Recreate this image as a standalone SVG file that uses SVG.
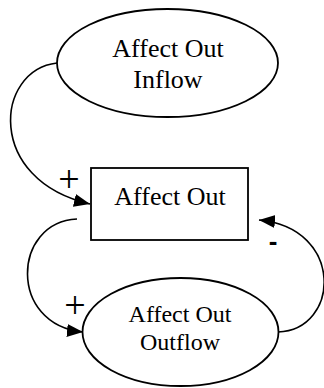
<svg xmlns="http://www.w3.org/2000/svg" width="324" height="388" viewBox="0 0 324 388">
<style>
.shape{fill:#fff;stroke:#000;stroke-width:1.8}
.lbl{font-family:"Liberation Serif","Times New Roman",serif;fill:#000;text-anchor:middle}
.conn{fill:none;stroke:#000;stroke-width:1.6}
.sign{font-family:"Liberation Serif","Times New Roman",serif;fill:#000;text-anchor:middle;font-size:38px}
</style>
<defs>
<marker id="arr" markerUnits="userSpaceOnUse" markerWidth="17" markerHeight="14" refX="16" refY="6.5" orient="auto">
<path d="M0,0 L16,6.5 L0,13 z" fill="#000"/>
</marker>
</defs>
<g id="inflow">
<ellipse class="shape" cx="167.5" cy="63" rx="110.5" ry="54"/>
<text class="lbl" font-size="26" x="168" y="57">Affect Out</text>
<text class="lbl" font-size="26" x="168" y="88">Inflow</text>
</g>
<g id="stock">
<rect class="shape" x="91" y="168" width="157" height="72"/>
<text class="lbl" font-size="26" x="170" y="205">Affect Out</text>
</g>
<g id="outflow">
<ellipse class="shape" cx="180.5" cy="332" rx="98" ry="54"/>
<text class="lbl" font-size="24" x="180" y="322">Affect Out</text>
<text class="lbl" font-size="24" x="180" y="350">Outflow</text>
</g>
<g id="connectors">
<path class="conn" d="M57,63 C-5,70 -15,180 90,204" marker-end="url(#arr)"/>
<path class="conn" d="M77,219 C12,222 8,325 83,332" marker-end="url(#arr)"/>
<path class="conn" d="M278,332 C340,330 345,228 259,220" marker-end="url(#arr)"/>
<text class="sign" x="69" y="192">+</text>
<text class="sign" x="75" y="318">+</text>
<text x="273" y="250" style="font-family:'Liberation Sans',Arial,sans-serif;font-weight:bold;font-size:26px;text-anchor:middle">-</text>
</g>
</svg>
